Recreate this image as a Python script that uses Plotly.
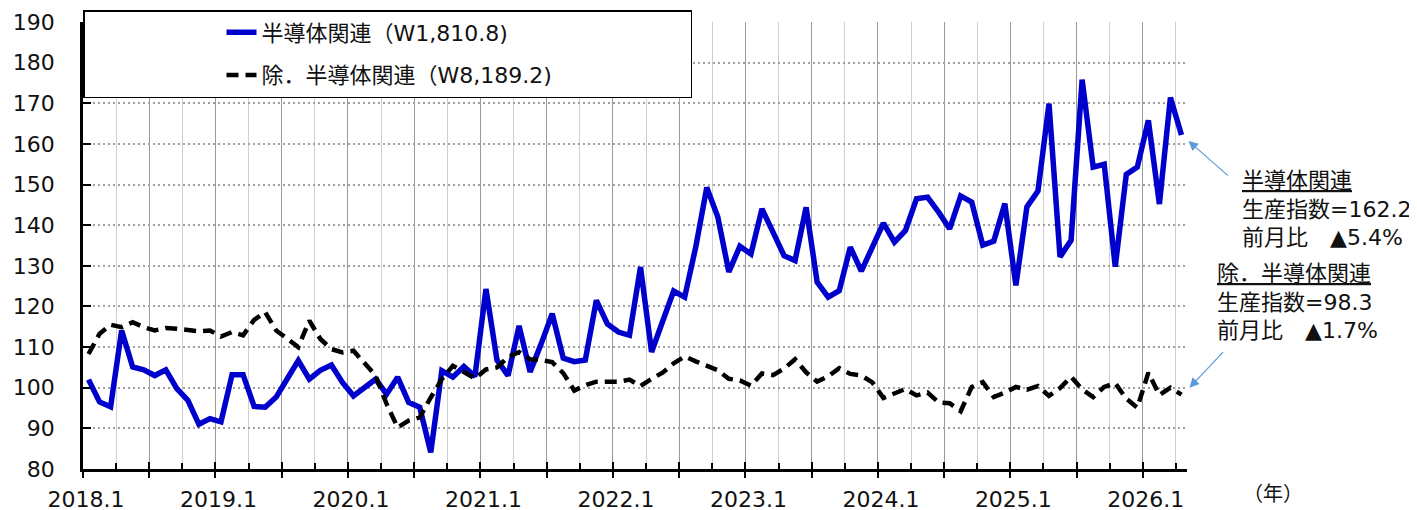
import plotly.graph_objects as go

# Months 2018.1 .. 2026.4 (100 monthly observations)
n_months = 100
year_labels = [f"{y}.1" for y in range(2018, 2027)]

semi = [102.0, 96.5, 95.3, 114.1, 105.1, 104.4, 103.0, 104.4, 99.8, 96.9,
        91.0, 92.4, 91.6, 103.2, 103.2, 95.4, 95.2, 97.7, 102.2, 106.7,
        102.1, 104.3, 105.6, 101.3, 98.0, 100.1, 102.1, 98.4, 102.6, 96.4,
        95.2, 84.1, 104.2, 102.6, 105.2, 102.8, 124.3, 106.8, 103.0, 115.2,
        103.9, 110.8, 118.2, 107.3, 106.4, 106.8, 121.5, 115.7, 113.7, 112.9,
        129.7, 108.8, 116.6, 123.8, 122.3, 134.6, 149.3, 142.0, 128.5, 134.8,
        132.9, 144.0, 138.3, 132.5, 131.3, 144.4, 126.0, 122.3, 123.9, 134.6,
        128.7, 135.0, 140.5, 135.8, 138.7, 146.5, 146.9, 143.2, 139.1, 147.2,
        145.7, 135.1, 136.1, 145.3, 125.2, 144.5, 148.4, 169.9, 132.2, 136.3,
        175.8, 154.3, 155.0, 129.8, 152.5, 154.3, 165.8, 145.2, 171.4, 162.2]

ex_semi = [108.3, 113.3, 115.5, 114.9, 116.1, 114.9, 114.1, 114.7, 114.5, 114.1,
           113.9, 114.1, 112.6, 113.7, 112.9, 116.7, 118.6, 114.1, 112.0, 110.0,
           116.5, 112.0, 109.5, 108.7, 109.1, 106.2, 103.0, 96.0, 90.2, 91.9,
           92.7, 97.6, 102.1, 105.4, 103.8, 102.3, 104.5, 105.0, 107.5, 108.8,
           107.0, 106.8, 106.3, 103.6, 99.3, 100.6, 101.5, 101.5, 101.5, 102.0,
           100.4, 102.2, 103.7, 106.0, 107.7, 106.5, 105.5, 104.3, 102.2, 101.8,
           100.5, 103.5, 103.1, 104.7, 107.0, 103.8, 101.5, 102.8, 104.8, 103.4,
           103.0, 101.3, 97.5, 98.6, 99.7, 98.1, 98.8, 96.4, 96.2, 94.2,
           100.2, 101.4, 97.7, 98.8, 100.2, 99.5, 100.4, 98.0, 99.9, 102.7,
           99.6, 97.7, 100.2, 101.1, 97.3, 95.1, 103.7, 98.2, 100.0, 98.3]

name_semi = "半導体関連（W1,810.8)"
name_ex = "除．半導体関連（W8,189.2)"
note_semi = "<u>半導体関連</u><br>生産指数=162.2<br>前月比　▲5.4%"
note_ex = "<u>除．半導体関連</u><br>生産指数=98.3<br>前月比　▲1.7%"
year_unit = "（年）"

FONT = "DejaVu Sans, Verdana, Noto Sans CJK JP, sans-serif"
NBSP_PAD = "\u00a0" * 19  # widens the legend box

# month index positions: each month is centred within its slot
x = [i + 0.5 for i in range(n_months)]
major_vals = list(range(0, n_months, 6))
major_text = [year_labels[v // 12] if v % 12 == 0 else "" for v in major_vals]
minor_vals = list(range(3, n_months + 1, 6))

# page body adds an 8px offset; figure sized so the plot lands where the reference has it
W, H = 1409, 510
ML, MR, MT, MB = 75, 230, 2, 49
PAPER_H = H - MT - MB          # 459
PLOT_H = 469 - 22              # plot height in px (447)
DOM_TOP = PLOT_H / PAPER_H


def py(pix):
    """page pixel row -> paper y"""
    return (469 - pix) / PAPER_H


def px(pix):
    """page pixel column -> paper x"""
    return (pix - 83) / (W - ML - MR)


fig = go.Figure()
fig.add_trace(go.Scatter(
    x=x, y=semi, mode="lines", name=name_semi, legendgroup="a",
    line=dict(color="#0000CC", width=5.5)))
fig.add_trace(go.Scatter(
    x=x, y=ex_semi, mode="lines", name=name_ex + NBSP_PAD, legendgroup="b", xaxis="x2",
    line=dict(color="#000000", width=4.5, dash="12px,7px")))

fig.update_layout(
    width=W, height=H,
    margin=dict(l=ML, r=MR, t=MT, b=MB, autoexpand=False),
    paper_bgcolor="white", plot_bgcolor="white",
    font=dict(family=FONT, size=22, color="#111"),
    xaxis=dict(
        range=[0, n_months], tickmode="array", tickvals=major_vals, ticktext=major_text,
        ticks="outside", ticklen=6, tickwidth=2, tickcolor="black",
        showline=True, linecolor="black", linewidth=2.5,
        showgrid=True, gridcolor="#9a9a9a", gridwidth=1, zeroline=False,
        ticklabelstandoff=3, ticklabelshift=3, automargin=False,
        minor=dict(tickmode="array", tickvals=minor_vals, ticks="inside", ticklen=6,
                   tickwidth=1.5, tickcolor="black", showgrid=True,
                   gridcolor="#d0d0d0", gridwidth=1),
        tickfont=dict(size=22)),
    xaxis2=dict(
        range=[0, n_months], overlaying="x", anchor="y", side="bottom",
        tickmode="array", tickvals=major_vals, ticks="inside", ticklen=7,
        tickwidth=2, tickcolor="black", showticklabels=False, showgrid=False,
        showline=False, zeroline=False, automargin=False),
    yaxis=dict(
        domain=[0, DOM_TOP],
        range=[80, 190], dtick=10, tick0=80, ticks="inside", ticklen=8, tickwidth=2,
        tickcolor="black", showline=True, linecolor="black", linewidth=2.5,
        showgrid=True, gridcolor="#a0a0a0", gridwidth=1.5, griddash="2px,3px",
        zeroline=False, ticklabelstandoff=21, automargin=False, tickfont=dict(size=22)),
    legend=dict(
        x=0, xanchor="left", y=1, yanchor="top",
        bgcolor="white", bordercolor="black", borderwidth=1.5,
        font=dict(size=22, family=FONT, color="#111"),
        tracegroupgap=11, indentation=137,
        traceorder="grouped"),
    showlegend=True,
)

last_x = x[-1]
fig.add_annotation(x=last_x, y=semi[-1], xref="x", yref="y", xshift=7, yshift=-6,
                   ax=41, ay=36, text="", showarrow=True, arrowhead=2,
                   arrowsize=1.6, arrowwidth=1.2, arrowcolor="#5B9BD5")
fig.add_annotation(x=last_x, y=ex_semi[-1], xref="x", yref="y", xshift=8, yshift=7,
                   ax=35, ay=-37, text="", showarrow=True, arrowhead=2,
                   arrowsize=1.6, arrowwidth=1.2, arrowcolor="#5B9BD5")
fig.add_annotation(x=px(1240), y=py(166), xref="paper", yref="paper",
                   xanchor="left", yanchor="top", align="left", showarrow=False,
                   text=note_semi, font=dict(size=22, family=FONT, color="#111"))
fig.add_annotation(x=px(1215), y=py(259), xref="paper", yref="paper",
                   xanchor="left", yanchor="top", align="left", showarrow=False,
                   text=note_ex, font=dict(size=22, family=FONT, color="#111"))
fig.add_annotation(x=px(1273), y=py(494), xref="paper", yref="paper",
                   xanchor="center", yanchor="middle", showarrow=False,
                   text=year_unit, font=dict(size=20, family=FONT, color="#111"))

fig.write_html("out.html")
